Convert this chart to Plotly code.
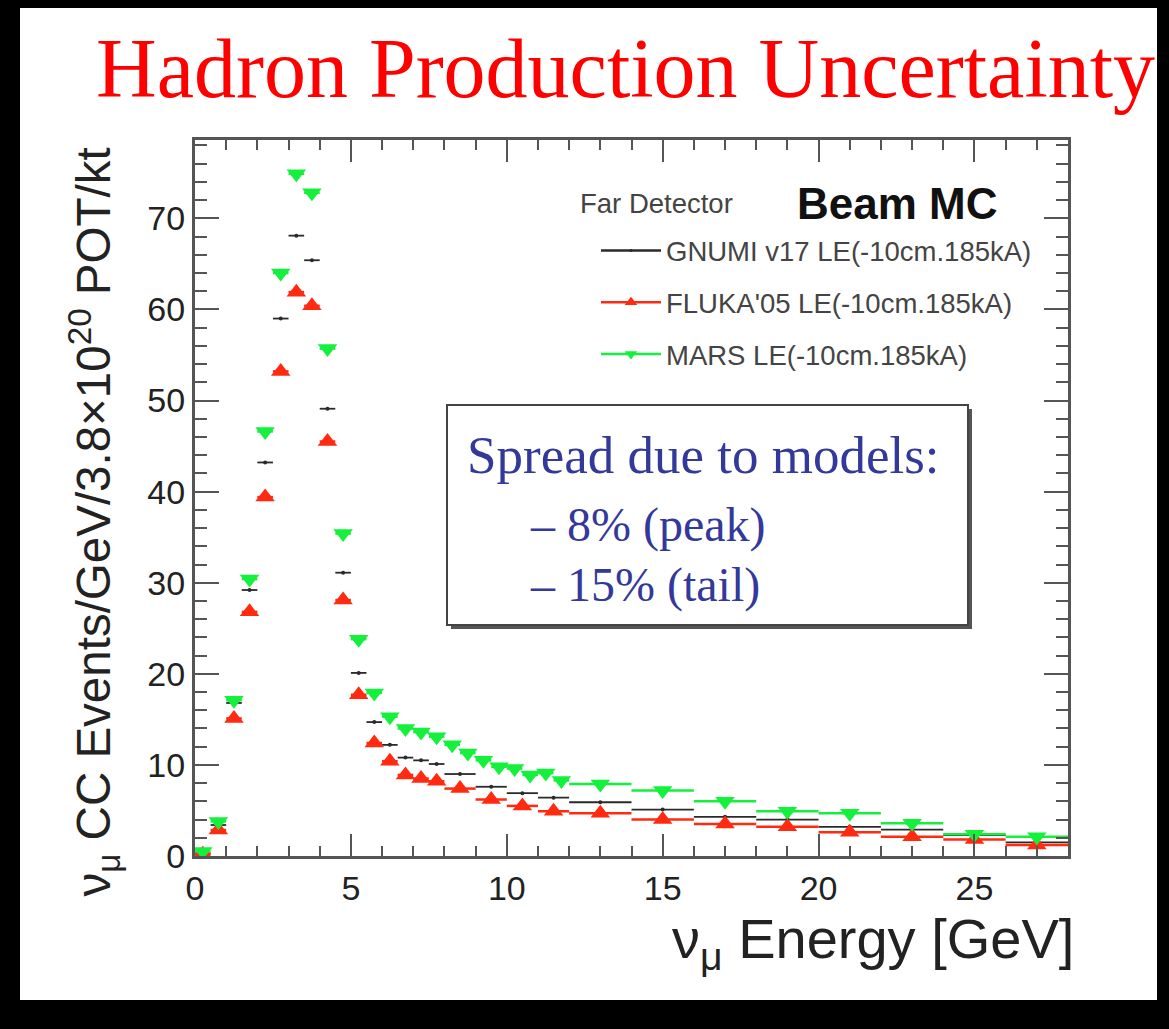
import plotly.graph_objects as go

# ---------------- data ----------------
mars_x = [0.25, 0.75, 1.25, 1.75, 2.25, 2.75, 3.25, 3.75, 4.25, 4.75, 5.25, 5.75,
          6.25, 6.75, 7.25, 7.75, 8.25, 8.75, 9.25, 9.75, 10.25, 10.75, 11.25, 11.75,
          13, 15, 17, 19, 21, 23, 25, 27]
mars_xerr = [0.25] * 24 + [1.0] * 8
mars_y = [0.5, 3.8, 17.1, 30.4, 46.6, 64.0, 74.9, 72.8, 55.7, 35.4, 23.8, 17.9,
          15.3, 14.0, 13.6, 13.1, 12.2, 11.3, 10.5, 9.8, 9.6, 8.9, 9.1, 8.3,
          7.9, 7.2, 6.0, 4.9, 4.7, 3.6, 2.4, 2.1]

coarse_x = [0.25, 0.75, 1.25, 1.75, 2.25, 2.75, 3.25, 3.75, 4.25, 4.75, 5.25, 5.75,
            6.25, 6.75, 7.25, 7.75, 8.5, 9.5, 10.5, 11.5,
            13, 15, 17, 19, 21, 23, 25, 27]
coarse_xerr = [0.25] * 16 + [0.5] * 4 + [1.0] * 8

gnumi_y = [0.3, 3.4, 16.8, 29.2, 43.2, 59.0, 68.1, 65.4, 49.1, 31.1, 20.1, 14.7,
           12.2, 10.8, 10.5, 10.1, 9.0, 7.6, 6.9, 6.4,
           5.9, 5.1, 4.3, 4.0, 3.2, 2.9, 2.3, 1.5]
fluka_y = [0.2, 2.85, 15.1, 26.8, 39.4, 53.2, 61.9, 60.4, 45.5, 28.1, 17.7, 12.4,
           10.4, 8.9, 8.5, 8.2, 7.4, 6.2, 5.5, 4.9,
           4.7, 4.0, 3.5, 3.2, 2.6, 2.1, 1.8, 1.2]

series_names = ["GNUMI v17 LE(-10cm.185kA)", "FLUKA'05 LE(-10cm.185kA)", "MARS LE(-10cm.185kA)"]
x_ticks = [0, 5, 10, 15, 20, 25]
y_ticks = [0, 10, 20, 30, 40, 50, 60, 70]

title_text = "Hadron Production Uncertainty"
box_lines = ["Spread due to models:", "– 8% (peak)", "– 15% (tail)"]

# ---------------- layout geometry (pixels) ----------------
W, H = 1169, 1029
L, R, T, B = 195, 1068, 140, 856


def px(xp):
    return (xp - L) / (R - L)


def py(yp):
    return (B - yp) / (B - T)


BLACK = "#2a2a2a"
RED = "#ff2a10"
GREEN = "#14f03c"
BLUE = "#33399a"
SANS = "Liberation Sans, Arial, sans-serif"
SERIF = "Liberation Serif, Times New Roman, serif"

fig = go.Figure()

fig.add_trace(go.Scatter(
    x=coarse_x, y=gnumi_y, mode="markers", showlegend=False,
    marker=dict(symbol="circle", size=4, color=BLACK),
    error_x=dict(type="data", array=coarse_xerr, width=0, thickness=1.8, color=BLACK),
))
fig.add_trace(go.Scatter(
    x=coarse_x, y=fluka_y, mode="markers", showlegend=False,
    marker=dict(symbol="triangle-up", size=17, color=RED),
    error_x=dict(type="data", array=coarse_xerr, width=0, thickness=2.5, color=RED),
))
fig.add_trace(go.Scatter(
    x=mars_x, y=mars_y, mode="markers", showlegend=False,
    marker=dict(symbol="triangle-down", size=17, color=GREEN),
    error_x=dict(type="data", array=mars_xerr, width=0, thickness=2.5, color=GREEN),
))

# legend entries
for name, col, sym, sz in [(series_names[0], BLACK, "circle", 3),
                           (series_names[1], RED, "triangle-up", 11),
                           (series_names[2], GREEN, "triangle-down", 11)]:
    fig.add_trace(go.Scatter(
        x=[None], y=[None], mode="lines+markers", name=name, legendgroup=name,
        line=dict(color=col, width=2.5), marker=dict(symbol=sym, size=sz, color=col),
    ))

axis_common = dict(
    showline=True, linecolor="#555555", linewidth=3, mirror="allticks",
    ticks="inside", tickcolor="#555555", tickwidth=2,
    showgrid=False, zeroline=False,
    tickfont=dict(family=SANS, size=34, color="#222222"),
)

fig.update_xaxes(range=[0, 28], tickvals=x_ticks, ticklen=22,
                 minor=dict(dtick=1, ticklen=10, ticks="inside", tickcolor="#555555", tickwidth=2),
                 **axis_common)
fig.update_yaxes(range=[0, 78.6], tickvals=y_ticks, ticklen=24,
                 minor=dict(dtick=2, ticklen=12, ticks="inside", tickcolor="#555555", tickwidth=2),
                 **axis_common)

shapes = [
    # white page inside black border
    dict(type="rect", xref="paper", yref="paper", layer="below",
         x0=px(20), x1=px(1157), y0=py(1000), y1=py(8),
         fillcolor="white", line=dict(width=0)),
    # text box shadow
    dict(type="rect", xref="paper", yref="paper", layer="above",
         x0=px(451), x1=px(972), y0=py(629), y1=py(409),
         fillcolor="#555555", line=dict(width=0)),
    # text box
    dict(type="rect", xref="paper", yref="paper", layer="above",
         x0=px(447), x1=px(968), y0=py(625), y1=py(405),
         fillcolor="white", line=dict(color="#444444", width=2)),
]

annotations = [
    dict(text=title_text, xref="paper", yref="paper", x=px(625), y=py(68),
         xanchor="center", yanchor="middle", showarrow=False,
         font=dict(family=SERIF, size=84, color="#ff0000")),
    dict(text="ν<sub>μ</sub> CC Events/GeV/3.8×10<sup>20</sup> POT/kt",
         xref="paper", yref="paper", x=px(94), y=py(146), textangle=-90,
         xanchor="center", yanchor="top", showarrow=False,
         font=dict(family=SANS, size=47.5, color="#222222")),
    dict(text="ν<sub>μ</sub> Energy [GeV]", xref="paper", yref="paper",
         x=px(1076), y=py(942), xanchor="right", yanchor="middle", showarrow=False,
         font=dict(family=SANS, size=56, color="#222222")),
    dict(text="Far Detector", xref="paper", yref="paper", x=px(578), y=py(203),
         xanchor="left", yanchor="middle", showarrow=False,
         font=dict(family=SANS, size=27.5, color="#444444")),
    dict(text="<b>Beam MC</b>", xref="paper", yref="paper", x=px(795), y=py(203),
         xanchor="left", yanchor="middle", showarrow=False,
         font=dict(family=SANS, size=44, color="#111111")),
    dict(text=box_lines[0], xref="paper", yref="paper", x=px(465), y=py(455),
         xanchor="left", yanchor="middle", showarrow=False,
         font=dict(family=SERIF, size=53, color=BLUE)),
    dict(text=box_lines[1], xref="paper", yref="paper", x=px(528), y=py(525),
         xanchor="left", yanchor="middle", showarrow=False,
         font=dict(family=SERIF, size=48, color=BLUE)),
    dict(text=box_lines[2], xref="paper", yref="paper", x=px(528), y=py(585),
         xanchor="left", yanchor="middle", showarrow=False,
         font=dict(family=SERIF, size=48, color=BLUE)),
]

fig.update_layout(
    width=W, height=H,
    margin=dict(l=L, r=W - R, t=T, b=H - B, pad=0),
    paper_bgcolor="black", plot_bgcolor="white",
    shapes=shapes, annotations=annotations,
    showlegend=True,
    legend=dict(x=px(596), y=py(226), xanchor="left", yanchor="top",
                bgcolor="rgba(0,0,0,0)", borderwidth=0,
                font=dict(family=SANS, size=27.5, color="#444444"),
                tracegroupgap=13, traceorder="grouped", itemwidth=60),
    font=dict(family=SANS),
)

fig.write_html("out.html")
